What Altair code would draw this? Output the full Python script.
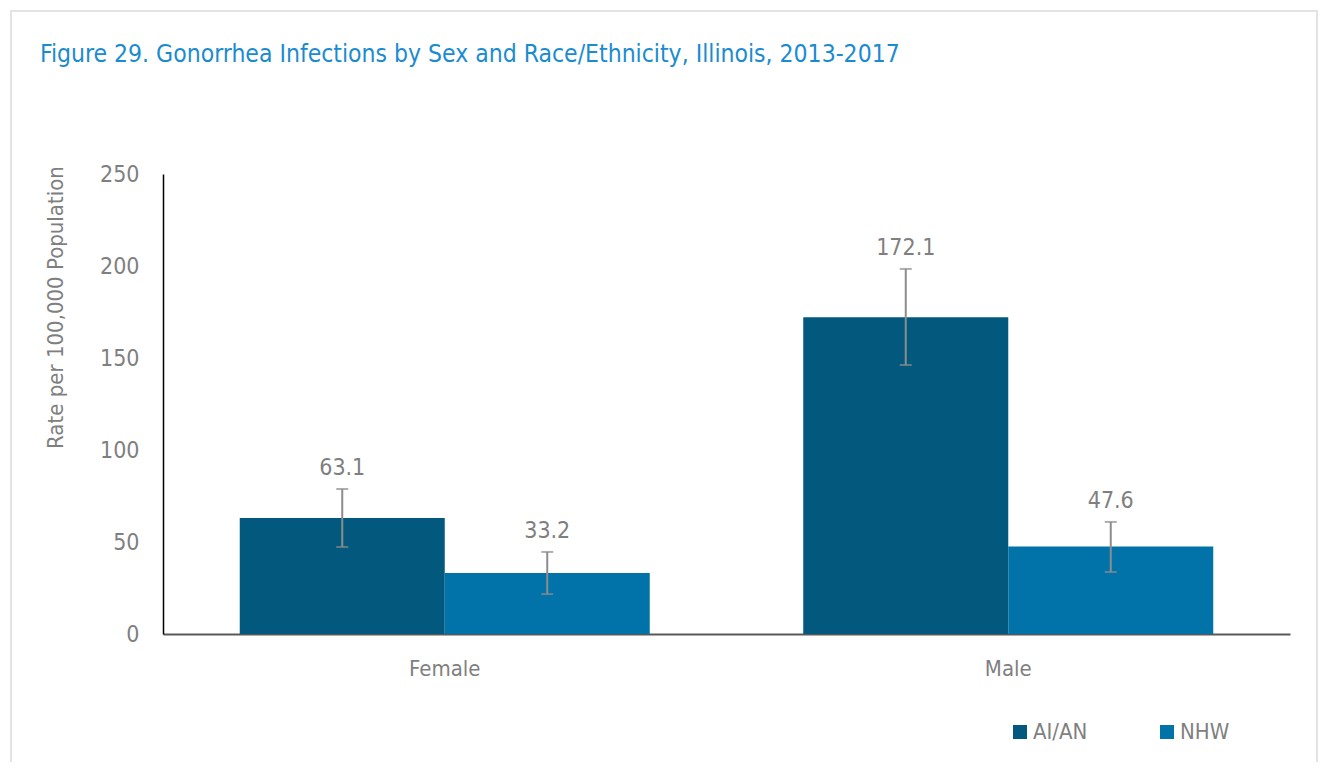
import altair as alt
import pandas as pd

# ---- data ----
sexes = ["Female", "Female", "Male", "Male"]
groups = ["AI/AN", "NHW", "AI/AN", "NHW"]
rates = [63.1, 33.2, 172.1, 47.6]
ci_low = [47.3, 21.7, 146.2, 33.7]
ci_high = [78.8, 44.6, 198.4, 60.9]
y_ticks = [0, 50, 100, 150, 200, 250]
group_order = ["AI/AN", "NHW"]
group_colors = ["#03587d", "#0273a8"]

df = pd.DataFrame({"sex": sexes, "group": groups, "rate": rates, "lo": ci_low, "hi": ci_high})
df["label"] = [f"{v:.1f}" for v in rates]

FONT = "Liberation Sans Narrow, Arial Narrow, DejaVu Sans Condensed, sans-serif"
GRAY = "#7f7f7f"
ERR = "#8c8c8c"

x = alt.X(
    "sex:N", title=None,
    scale=alt.Scale(paddingInner=0.2724, paddingOuter=0.1362),
    axis=alt.Axis(labelAngle=0, labelFontSize=22, labelColor=GRAY, labelFont=FONT,
                  ticks=False, domainColor="#595959", domainWidth=2, labelPadding=24),
)
xo = alt.XOffset("group:N", sort=group_order, scale=alt.Scale(paddingInner=0, paddingOuter=0))

base = alt.Chart(df)

bars = base.mark_bar().encode(
    x=x, xOffset=xo,
    y=alt.Y(
        "rate:Q", title="Rate per 100,000 Population",
        scale=alt.Scale(domain=[0, 250], nice=False),
        axis=alt.Axis(values=y_ticks, grid=False, ticks=False, domainColor="#000000", domainWidth=1.5,
                      labelFontSize=23, labelColor=GRAY, labelFont=FONT, labelPadding=24,
                      titleFont=FONT, titleFontSize=22, titleColor=GRAY, titleFontWeight="normal",
                      titleX=-108, titleY=133, titleAngle=270, titleAlign="center", titleBaseline="middle"),
    ),
    color=alt.Color(
        "group:N",
        scale=alt.Scale(domain=group_order, range=group_colors),
        legend=alt.Legend(title=None, orient="none", legendX=846, legendY=547, direction="horizontal",
                          symbolType="square", symbolSize=196, symbolStrokeWidth=0,
                          labelFontSize=22, labelColor=GRAY, labelFont=FONT,
                          columnPadding=68, labelOffset=2),
    ),
)

rules = base.mark_rule(color=ERR, strokeWidth=2).encode(x=x, xOffset=xo, y="lo:Q", y2="hi:Q")
cap_hi = base.mark_tick(color=ERR, thickness=2, size=12, orient="horizontal").encode(x=x, xOffset=xo, y="hi:Q")
cap_lo = base.mark_tick(color=ERR, thickness=2, size=12, orient="horizontal").encode(x=x, xOffset=xo, y="lo:Q")
labels = base.mark_text(dy=-14, baseline="alphabetic", fontSize=23, color=GRAY, font=FONT).encode(
    x=x, xOffset=xo, y="hi:Q", text="label:N"
)

border = alt.Chart(pd.DataFrame({"k": [0]})).mark_rect(
    fill="transparent", stroke="#e3e3e3", strokeWidth=2
).encode(x=alt.value(-152), x2=alt.value(1154), y=alt.value(-163), y2=alt.value(640))

chart = alt.layer(border, bars, rules, cap_hi, cap_lo, labels).properties(
    width=1127, height=460,
    autosize=alt.AutoSizeParams(type="none"),
    padding={"left": 155, "top": 166, "right": 29, "bottom": 128},
    background="white",
    title=alt.TitleParams(
        "Figure 29. Gonorrhea Infections by Sex and Race/Ethnicity, Illinois, 2013-2017",
        anchor="start", frame="group", dx=-123, fontSize=24.5, font=FONT, color="#1b8bcf",
        fontWeight="normal", baseline="alphabetic", offset=-76,
    ),
).configure_view(stroke=None)

chart.save("out.html", embed_options={"renderer": "svg", "actions": False})
